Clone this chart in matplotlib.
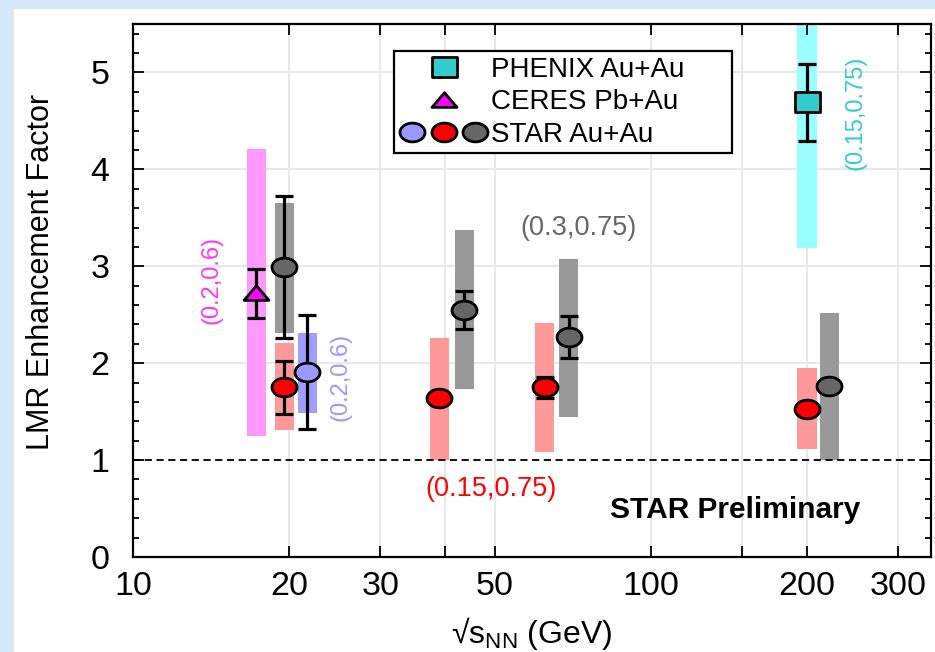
import numpy as np
import matplotlib
matplotlib.use("Agg")
import matplotlib.pyplot as plt
from matplotlib.path import Path
from matplotlib.lines import Line2D
from matplotlib.patches import Rectangle
from matplotlib.legend_handler import HandlerTuple
from matplotlib.ticker import FixedLocator, NullFormatter, MultipleLocator

plt.rcParams['font.family'] = ['Liberation Sans', 'DejaVu Sans']
plt.rcParams['mathtext.fontset'] = 'custom'
plt.rcParams['mathtext.rm'] = 'Liberation Sans'

# ---- data -------------------------------------------------------------
# CERES Pb+Au (0.2,0.6)
ceres_x = [17.3]
ceres_y = [2.72]
ceres_err = [0.25]
ceres_sys_lo = [1.25]
ceres_sys_hi = [4.21]

# PHENIX Au+Au (0.15,0.75)
phenix_x = [200.0]
phenix_y = [4.69]
phenix_err = [0.40]
phenix_sys_lo = [3.19]
phenix_sys_hi = [6.20]

# STAR Au+Au, mass window (0.2,0.6)
star_a_x = [21.7]
star_a_y = [1.91]
star_a_err = [0.59]
star_a_sys_lo = [1.49]
star_a_sys_hi = [2.31]

# STAR Au+Au, mass window (0.15,0.75)
star_b_x = [19.6, 39.0, 62.4, 200.0]
star_b_y = [1.75, 1.64, 1.75, 1.53]
star_b_err = [0.27, 0.05, 0.11, 0.04]
star_b_sys_lo = [1.31, 1.00, 1.08, 1.11]
star_b_sys_hi = [2.21, 2.26, 2.41, 1.95]

# STAR Au+Au, mass window (0.3,0.75)
star_c_x = [19.6, 43.6, 69.4, 221.0]
star_c_y = [2.99, 2.55, 2.27, 1.76]
star_c_err = [0.73, 0.20, 0.22, 0.04]
star_c_sys_lo = [2.31, 1.73, 1.44, 1.00]
star_c_sys_hi = [3.65, 3.37, 3.08, 2.52]

x_major = [10, 20, 30, 50, 100, 200, 300]
x_major_labels = ['10', '20', '30', '50', '100', '200', '300']
x_extra_ticks = [40, 150]

# ---- markers (slightly wide ellipses / boxes / triangles) -------------
t = np.linspace(0, 2 * np.pi, 61)
ellipse = Path(np.column_stack([np.cos(t), 0.75 * np.sin(t)]), closed=True)
box = Path([(-1, -0.78), (1, -0.78), (1, 0.78), (-1, 0.78), (-1, -0.78)], closed=True)
tri = Path([(-1, -0.55), (1, -0.55), (0, 0.62), (-1, -0.55)], closed=True)

fig = plt.figure(figsize=(9.35, 6.52), dpi=100)
fig.patch.set_facecolor('#d5e9fb')
fig.patches.append(Rectangle((14 / 935, 0), 1, (652 - 9) / 652, transform=fig.transFigure,
                             facecolor='white', edgecolor='none', zorder=-10))

ax = fig.add_axes([133 / 935, (652 - 557) / 652, 798 / 935, 533 / 652])
ax.set_xscale('log')
ax.set_xlim(10, 347)
ax.set_ylim(0, 5.5)

# grid
for gx in [20, 30, 40, 50, 100, 150, 200, 300]:
    ax.axvline(gx, color='#e8e8e8', lw=1.4, zorder=0)
for gy in [2, 3, 4, 5]:
    ax.axhline(gy, color='#e8e8e8', lw=1.4, zorder=0)

BAND = 10 ** 0.0184  # half-width factor of systematic bands in log x


def bands(xs, lo, hi, color):
    xs = np.asarray(xs, float)
    lo = np.asarray(lo, float)
    hi = np.asarray(hi, float)
    ax.bar(xs / BAND, hi - lo, width=xs * BAND - xs / BAND, bottom=lo,
           align='edge', color=color, edgecolor='none', zorder=1)


bands(ceres_x, ceres_sys_lo, ceres_sys_hi, '#ff99ff')
bands(phenix_x, phenix_sys_lo, phenix_sys_hi, '#99ffff')
bands(star_a_x, star_a_sys_lo, star_a_sys_hi, '#9e9eff')
bands(star_b_x, star_b_sys_lo, star_b_sys_hi, '#ff9999')
bands(star_c_x, star_c_sys_lo, star_c_sys_hi, '#999999')

ax.axhline(1.0, color='black', lw=1.3, ls=(0, (4, 2.5)), zorder=2)

MS = 18
MEW = 2.0


def points(xs, ys, errs, marker, face):
    ax.errorbar(xs, ys, yerr=errs, fmt='none', ecolor='black', elinewidth=2.3,
                capsize=6.5, capthick=2.3, zorder=3)
    ax.plot(xs, ys, ls='none', marker=marker, ms=MS, mfc=face, mec='black',
            mew=MEW, zorder=4)


points(star_c_x, star_c_y, star_c_err, ellipse, '#666666')
points(star_b_x, star_b_y, star_b_err, ellipse, '#ff0000')
points(star_a_x, star_a_y, star_a_err, ellipse, '#9999ff')
points(ceres_x, ceres_y, ceres_err, tri, '#ff00ff')
points(phenix_x, phenix_y, phenix_err, box, '#33cccc')

# window labels
ax.text(14.15, 2.86, '(0.2,0.6)', color='#ff33ff', rotation=90, fontsize=17,
        ha='center', va='center')
ax.text(25.1, 1.86, '(0.2,0.6)', color='#9999ff', rotation=90, fontsize=17,
        ha='center', va='center')
ax.text(247.7, 4.58, '(0.15,0.75)', color='#33cccc', rotation=90, fontsize=17,
        ha='center', va='center')
ax.text(72.3, 3.39, '(0.3,0.75)', color='#666666', fontsize=19.5,
        ha='center', va='center')
ax.text(49.1, 0.70, '(0.15,0.75)', color='#ff0000', fontsize=19.5,
        ha='center', va='center')
ax.text(145.3, 0.48, 'STAR Preliminary', color='black', fontsize=21.5,
        fontweight='bold', ha='center', va='center')

# axes styling
for s in ax.spines.values():
    s.set_linewidth(1.6)
ax.xaxis.set_major_locator(FixedLocator(x_major))
ax.xaxis.set_minor_locator(FixedLocator(x_extra_ticks))
ax.set_xticklabels(x_major_labels)
ax.xaxis.set_minor_formatter(NullFormatter())
ax.yaxis.set_major_locator(MultipleLocator(1))
ax.yaxis.set_minor_locator(MultipleLocator(0.2))
ax.tick_params(which='both', direction='in', top=True, right=True, width=1.3)
ax.tick_params(which='major', length=8)
ax.tick_params(which='minor', length=4.5)
ax.tick_params(axis='x', which='minor', length=8)
ax.tick_params(axis='both', which='major', labelsize=24.5)
ax.tick_params(axis='x', pad=10)
ax.tick_params(axis='y', pad=17)

ax.set_ylabel('LMR Enhancement Factor', fontsize=22)
ax.yaxis.set_label_coords(-0.096, 0.535)
ax.set_xlabel('√$\\mathregular{s_{NN}}$ (GeV)', fontsize=23)
ax.xaxis.set_label_coords(0.5, -0.108)

# legend
h_phenix = Line2D([], [], ls='none', marker=box, ms=MS, mfc='#33cccc', mec='black', mew=MEW)
h_ceres = Line2D([], [], ls='none', marker=tri, ms=MS, mfc='#ff00ff', mec='black', mew=MEW)
h_star = tuple(Line2D([], [], ls='none', marker=ellipse, ms=MS, mfc=c, mec='black', mew=MEW)
               for c in ['#9999ff', '#ff0000', '#666666'])
leg = ax.legend([h_phenix, h_ceres, h_star],
                ['PHENIX Au+Au', 'CERES Pb+Au', 'STAR Au+Au'],
                handler_map={tuple: HandlerTuple(ndivide=None, pad=0.2)},
                loc='upper left', bbox_to_anchor=(0.327, 0.9493, 0.4236, 0.0),
                mode='expand', borderaxespad=0, fontsize=20, frameon=True,
                fancybox=False, edgecolor='black', framealpha=1,
                handlelength=3.2, handletextpad=0.08, borderpad=0.2,
                labelspacing=0.24)
leg.get_frame().set_linewidth(1.6)

fig.savefig('out.png', dpi=100, facecolor=fig.get_facecolor())
